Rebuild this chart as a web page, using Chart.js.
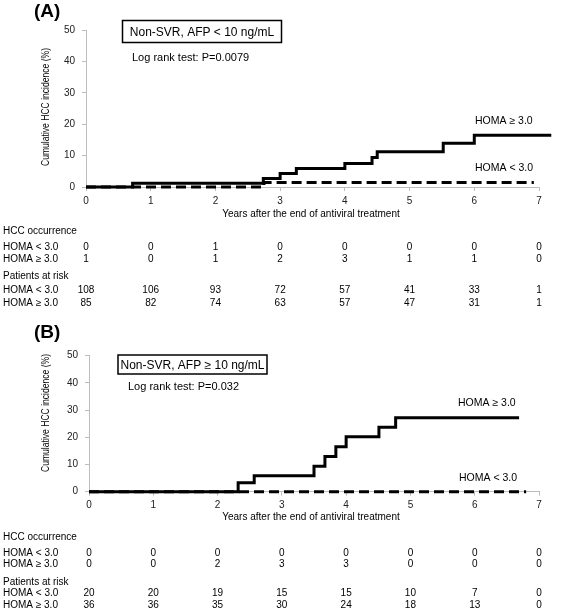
<!DOCTYPE html>
<html>
<head>
<meta charset="utf-8">
<script src="https://cdn.jsdelivr.net/npm/chart.js@4.4.1/dist/chart.umd.min.js"></script>
<style>
  body { margin: 0; background: #fff; }
  .panel { position: absolute; left: 0; }
</style>
</head>
<body>
<div class="panel" style="top:0"><canvas id="chartA" width="567" height="312"></canvas></div>
<div class="panel" style="top:300px"><canvas id="chartB" width="567" height="310"></canvas></div>
<script>
const yearTicks = [0, 1, 2, 3, 4, 5, 6, 7];
const incidenceTicks = [0, 10, 20, 30, 40, 50];

// (A) Non-SVR, AFP < 10 ng/mL
const aHighTimes = [0, 0.72, 2.74, 3.0, 3.25, 4.0, 4.42, 4.5, 5.52, 6.0, 7.19];
const aHighInc   = [0, 1.2, 2.7, 4.3, 5.9, 7.5, 9.4, 11.2, 13.9, 16.5, 16.5];
const aLowTimes  = [0, 2.75, 6.92];
const aLowInc    = [0, 1.4, 1.4];
const aOccLow    = [0, 0, 1, 0, 0, 0, 0, 0];
const aOccHigh   = [1, 0, 1, 2, 3, 1, 1, 0];
const aRiskLow   = [108, 106, 93, 72, 57, 41, 33, 1];
const aRiskHigh  = [85, 82, 74, 63, 57, 47, 31, 1];

// (B) Non-SVR, AFP >= 10 ng/mL
const bHighTimes = [0, 2.32, 2.57, 3.5, 3.67, 3.84, 4.0, 4.51, 4.77, 6.69];
const bHighInc   = [0, 3.3, 5.9, 9.4, 12.9, 16.5, 20.2, 23.7, 27.2, 27.2];
const bLowTimes  = [0, 6.8];
const bLowInc    = [0, 0];
const bOccLow    = [0, 0, 0, 0, 0, 0, 0, 0];
const bOccHigh   = [0, 0, 2, 3, 3, 0, 0, 0];
const bRiskLow   = [20, 20, 19, 15, 15, 10, 7, 0];
const bRiskHigh  = [36, 36, 35, 30, 24, 18, 13, 0];

const FONT = '"Liberation Sans", Arial, sans-serif';
Chart.defaults.font.family = FONT;
Chart.defaults.font.size = 10;
Chart.defaults.color = '#222';

function toPoints(times, vals) {
    return times.map((t, i) => ({ x: t, y: vals[i] }));
}

// annotations, y title, x title and the tables under each plot
function panelText(p) {
    return {
        id: 'panelText',
        afterDraw(chart) {
            const ctx = chart.ctx;
            const xs = chart.scales.x;
            ctx.save();
            ctx.fillStyle = '#000';
            ctx.textBaseline = 'middle';

            ctx.font = 'bold 19px ' + FONT;
            ctx.textAlign = 'left';
            ctx.fillText(p.letter, 34, p.letterY);

            ctx.lineWidth = 1.5;
            ctx.strokeStyle = '#000';
            ctx.strokeRect(p.box[0], p.box[1], p.box[2], p.box[3]);
            ctx.font = '12px ' + FONT;
            ctx.textAlign = 'center';
            ctx.fillText(p.boxText, p.box[0] + p.box[2] / 2, p.box[1] + p.box[3] / 2 + 1);

            ctx.font = '11px ' + FONT;
            ctx.textAlign = 'left';
            ctx.fillText(p.logRank, p.logRankPos[0], p.logRankPos[1]);

            ctx.font = '10.5px ' + FONT;
            ctx.fillText('HOMA \u2265 3.0', p.highLabel[0], p.highLabel[1]);
            ctx.fillText('HOMA < 3.0', p.lowLabel[0], p.lowLabel[1]);

            // y title
            ctx.save();
            ctx.translate(46, p.yTitleY);
            ctx.rotate(-Math.PI / 2);
            ctx.font = '10px ' + FONT;
            ctx.textAlign = 'center';
            const t = 'Cumulative HCC incidence (%)';
            const w = ctx.measureText(t).width;
            ctx.scale(118 / w, 1);
            ctx.fillText(t, 0, 0);
            ctx.restore();

            ctx.font = '10px ' + FONT;
            ctx.textAlign = 'center';
            ctx.fillText('Years after the end of antiviral treatment', 311, p.xTitleY);

            // tables
            const rows = p.rows;
            ctx.textAlign = 'left';
            ctx.fillText('HCC occurrence', 3, rows[0]);
            ctx.fillText('HOMA < 3.0', 3, rows[1]);
            ctx.fillText('HOMA \u2265 3.0', 3, rows[2]);
            ctx.fillText('Patients at risk', 3, rows[3]);
            ctx.fillText('HOMA < 3.0', 3, rows[4]);
            ctx.fillText('HOMA \u2265 3.0', 3, rows[5]);
            ctx.textAlign = 'center';
            yearTicks.forEach((yr, i) => {
                const x = xs.getPixelForValue(yr);
                ctx.fillText(String(p.occLow[i]), x, rows[1]);
                ctx.fillText(String(p.occHigh[i]), x, rows[2]);
                ctx.fillText(String(p.riskLow[i]), x, rows[4]);
                ctx.fillText(String(p.riskHigh[i]), x, rows[5]);
            });
            ctx.restore();
        }
    };
}

function makePanel(id, p) {
    const canvas = document.getElementById(id);
    return new Chart(canvas, {
        type: 'line',
        data: {
            datasets: [{
                label: 'HOMA >= 3.0',
                data: toPoints(p.highTimes, p.highInc),
                borderColor: '#000',
                borderWidth: 3,
                stepped: true,
                pointRadius: 0,
                clip: false
            }, {
                label: 'HOMA < 3.0',
                data: toPoints(p.lowTimes, p.lowInc),
                borderColor: '#000',
                borderWidth: 3,
                borderDash: [10, 5],
                stepped: true,
                pointRadius: 0,
                clip: false
            }]
        },
        options: {
            responsive: false,
            animation: false,
            layout: {
                autoPadding: false,
                padding: { left: 0, right: 567 - p.right, top: p.top, bottom: 0 }
            },
            plugins: {
                legend: { display: false },
                tooltip: { enabled: false }
            },
            scales: {
                x: {
                    type: 'linear',
                    min: 0,
                    max: 7,
                    afterBuildTicks: s => { s.ticks = yearTicks.map(v => ({ value: v })); },
                    afterFit: s => { s.height = canvas.height - p.bottom; },
                    border: { color: '#bdbdbd', width: 1 },
                    grid: { drawOnChartArea: false, tickLength: 4, color: '#bdbdbd' },
                    ticks: { padding: 4, color: '#222', font: { size: 10 } }
                },
                y: {
                    min: 0,
                    max: 50,
                    afterBuildTicks: s => { s.ticks = incidenceTicks.map(v => ({ value: v })); },
                    afterFit: s => { s.width = p.left; },
                    border: { color: '#bdbdbd', width: 1 },
                    grid: { drawOnChartArea: false, tickLength: 4, color: '#bdbdbd' },
                    ticks: { padding: 7, color: '#222', font: { size: 10 } }
                }
            }
        },
        plugins: [panelText(p)]
    });
}

makePanel('chartA', {
    highTimes: aHighTimes, highInc: aHighInc,
    lowTimes: aLowTimes, lowInc: aLowInc,
    occLow: aOccLow, occHigh: aOccHigh, riskLow: aRiskLow, riskHigh: aRiskHigh,
    left: 86, right: 539, top: 30, bottom: 187,
    letter: '(A)', letterY: 12,
    box: [122.5, 20.5, 159, 22], boxText: 'Non-SVR, AFP < 10 ng/mL',
    logRank: 'Log rank test: P=0.0079', logRankPos: [132, 58],
    highLabel: [475, 121], lowLabel: [475, 168],
    yTitleY: 107, xTitleY: 214,
    rows: [231, 247, 259, 276, 290, 303]
});

makePanel('chartB', {
    highTimes: bHighTimes, highInc: bHighInc,
    lowTimes: bLowTimes, lowInc: bLowInc,
    occLow: bOccLow, occHigh: bOccHigh, riskLow: bRiskLow, riskHigh: bRiskHigh,
    left: 89, right: 539, top: 55.7, bottom: 191.7,
    letter: '(B)', letterY: 33,
    box: [118, 55, 149, 19], boxText: 'Non-SVR, AFP \u2265 10 ng/mL',
    logRank: 'Log rank test: P=0.032', logRankPos: [128, 87],
    highLabel: [458, 103], lowLabel: [459, 178],
    yTitleY: 113, xTitleY: 217,
    rows: [237, 253, 264, 282, 293, 305]
});
</script>
</body>
</html>
